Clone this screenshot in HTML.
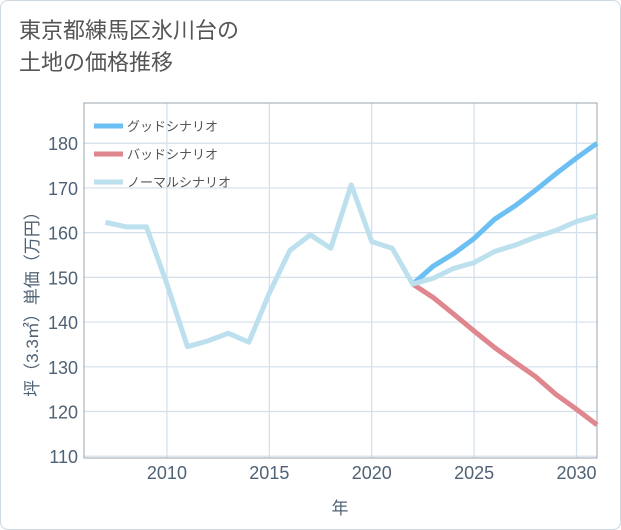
<!DOCTYPE html>
<html><head><meta charset="utf-8"><style>
body{margin:0;background:#fff;font-family:"Liberation Sans","Noto Sans CJK JP",sans-serif;}
#wrap{position:relative;width:619px;height:528px;border:1px solid #cfd8df;border-radius:8px;overflow:hidden;}
#title{position:absolute;left:18px;top:14px;font-size:22px;line-height:32px;color:#555;}
</style></head><body>
<div id="wrap">
<div id="title">東京都練馬区氷川台の<br>土地の価格推移</div>
<svg id="chart" width="621" height="530" style="position:absolute;left:-1px;top:-1px"></svg>
</div>
<script>
const years=[2007,2008,2009,2010,2011,2012,2013,2014,2015,2016,2017,2018,2019,2020,2021,2022,2023,2024,2025,2026,2027,2028,2029,2030,2031];
const normal=[162.3,161.3,161.3,148.5,134.5,135.8,137.5,135.5,146.5,156,159.5,156.5,170.7,158,156.5,148.5,149.8,152,153.3,155.8,157.2,159,160.5,162.5,163.8];
const fYears=[2022,2023,2024,2025,2026,2027,2028,2029,2030,2031];
const good=[148.5,152.5,155.3,158.7,163,166,169.5,173.2,176.7,180];
const bad=[148.5,145.5,141.8,138,134.3,131,127.8,123.8,120.5,117];
const xTicks=[2010,2015,2020,2025,2030];
const yTicks=[110,120,130,140,150,160,170,180];
const L=84,R=597,T=103,B=458,x0=2005.95,x1=2031,y0=109.6,y1=189;
const X=v=>L+(v-x0)/(x1-x0)*(R-L), Y=v=>B-(v-y0)/(y1-y0)*(B-T);
const svg=document.getElementById('chart'),NS='http://www.w3.org/2000/svg';
function mk(t,a,p){const e=document.createElementNS(NS,t);for(const k in a)e.setAttribute(k,a[k]);(p||svg).appendChild(e);return e;}
for(const t of xTicks){const l=mk('line',{x1:X(t),x2:X(t),y1:T,y2:B,stroke:'#d3dfea','stroke-width':1.2});


const tx=mk('text',{x:X(t),y:B+21,'text-anchor':'middle','font-size':18,fill:'#4f6275'});tx.textContent=t;

}
for(const t of yTicks){const l=mk('line',{x1:L,x2:R,y1:Y(t),y2:Y(t),stroke:'#d3dfea','stroke-width':1.2});


const tx=mk('text',{x:L-6,y:Y(t)+7,'text-anchor':'end','font-size':18,fill:'#4f6275'});tx.textContent=t;

}
const fr=mk('rect',{x:L,y:T,width:R-L,height:B-T,fill:'none',stroke:'#9aa4ad','stroke-width':1});


function line(xs,ys,c,n){const p=mk('polyline',{points:xs.map((v,i)=>X(v)+','+Y(ys[i])).join(' '),fill:'none',stroke:c,'stroke-width':5,'stroke-linejoin':'round'});

}
line(fYears,bad,'#e0868e','bad-scenario-line');
line(fYears,good,'#6bbff2','good-scenario-line');
line(years,normal,'#bde0ee','normal-scenario-line');
const leg=[['グッドシナリオ','#6bbff2'],['バッドシナリオ','#e0868e'],['ノーマルシナリオ','#bde0ee']];
leg.forEach((d,i)=>{const y=126+i*28;
const g=mk('g',{});


mk('line',{x1:94,x2:123,y1:y,y2:y,stroke:d[1],'stroke-width':5},g);
const t=mk('text',{x:127,y:y+5,'font-size':13,fill:'#555'},g);t.textContent=d[0];});
const xt=mk('text',{x:340,y:514,'text-anchor':'middle','font-size':17,fill:'#4f6275'});xt.textContent='年';


const yt=mk('text',{x:0,y:0,'text-anchor':'middle','font-size':17,fill:'#4f6275',transform:'translate(38,300) rotate(-90)'});yt.textContent='坪（3.3㎡）単価（万円）';


</script>
</body></html>
